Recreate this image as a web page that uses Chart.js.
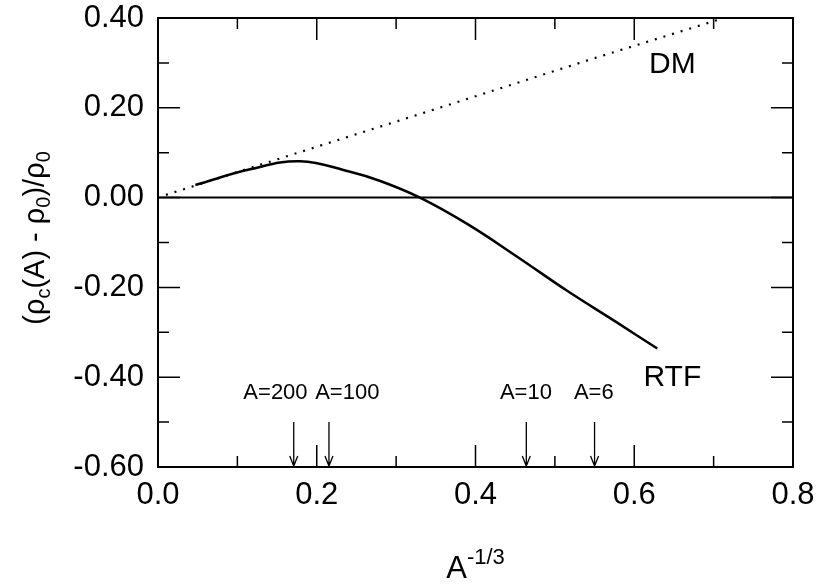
<!DOCTYPE html>
<html>
<head>
<meta charset="utf-8">
<script src="https://cdn.jsdelivr.net/npm/chart.js@4.4.1/dist/chart.umd.min.js"></script>
<style>
  html, body { margin: 0; padding: 0; background: #fff; }
  #wrap { width: 816px; height: 585px; }
</style>
</head>
<body>
<div id="wrap"><canvas id="myChart" width="816" height="585"></canvas></div>
<script>
// RTF curve
const rtfX = [0.047, 0.116, 0.179, 0.242, 0.28, 0.33, 0.389, 0.452, 0.515, 0.578, 0.629];
const rtfY = [0.028, 0.063, 0.081, 0.0575, 0.037, 0.0, -0.058, -0.131, -0.207, -0.278, -0.336];

// DM (dotted straight line)
const dmX = [0.01, 0.18, 0.36, 0.54, 0.713];
const dmY = [0.006, 0.102, 0.203, 0.305, 0.40];

// arrows for some mass numbers, at A^-1/3
const arrowNames = ["A=200", "A=100", "A=10", "A=6"];
const arrowX = [0.171, 0.2154, 0.464, 0.55];
const arrowLabelX = [0.148, 0.2385, 0.4635, 0.549];

const FONT = "'Liberation Sans', Arial, Helvetica, sans-serif";

function toPoints(xs, ys) {
  return xs.map((x, i) => ({ x: x, y: ys[i] }));
}

// draw text made of parts, some of them sub/superscript, centred on (x, y)
function drawRich(ctx, parts, x, y, size) {
  const small = Math.round(size * 0.7);
  let total = 0;
  parts.forEach((p) => {
    ctx.font = (p.sub || p.sup ? small : size) + "px " + FONT;
    p.w = ctx.measureText(p.t).width;
    total += p.w;
  });
  let cx = x - total / 2;
  ctx.textAlign = "left";
  ctx.textBaseline = "alphabetic";
  parts.forEach((p) => {
    ctx.font = (p.sub || p.sup ? small : size) + "px " + FONT;
    let dy = 0;
    if (p.sub) dy = size * 0.22;
    if (p.sup) dy = -size * 0.45;
    ctx.fillText(p.t, cx, y + dy);
    cx += p.w;
  });
}

// no extra room for the labels, the chart area is fixed by hand
function fixScale(scale, size) {
  if (scale.isHorizontal()) scale.height = size;
  else scale.width = size;
  scale.paddingTop = 0;
  scale.paddingBottom = 0;
  scale.paddingLeft = 0;
  scale.paddingRight = 0;
}

const framePlugin = {
  id: "frame",
  afterDraw(chart) {
    const ctx = chart.ctx;
    const xs = chart.scales.x;
    const ys = chart.scales.y;
    const a = chart.chartArea;
    ctx.save();
    ctx.strokeStyle = "#000";
    ctx.fillStyle = "#000";

    // zero line
    ctx.lineWidth = 2;
    ctx.beginPath();
    ctx.moveTo(a.left, ys.getPixelForValue(0));
    ctx.lineTo(a.right, ys.getPixelForValue(0));
    ctx.stroke();

    // box
    ctx.strokeRect(a.left, a.top, a.right - a.left, a.bottom - a.top);

    // inward ticks on all four sides
    ctx.lineWidth = 1.5;
    ctx.beginPath();
    for (let k = 1; k <= 7; k++) {
      const len = k % 2 === 0 ? 22 : 11;
      const px = xs.getPixelForValue(k / 10);
      ctx.moveTo(px, a.bottom);
      ctx.lineTo(px, a.bottom - len);
      ctx.moveTo(px, a.top);
      ctx.lineTo(px, a.top + len);
    }
    for (let k = -5; k <= 3; k++) {
      const len = Math.abs(k) % 2 === 0 ? 22 : 11;
      const py = ys.getPixelForValue(k / 10);
      ctx.moveTo(a.left, py);
      ctx.lineTo(a.left + len, py);
      ctx.moveTo(a.right, py);
      ctx.lineTo(a.right - len, py);
    }
    ctx.stroke();

    // arrows
    ctx.lineWidth = 1.3;
    arrowX.forEach((v, i) => {
      const px = xs.getPixelForValue(v);
      const y0 = ys.getPixelForValue(-0.5);
      const y1 = ys.getPixelForValue(-0.6) - 1;
      ctx.beginPath();
      ctx.moveTo(px, y0);
      ctx.lineTo(px, y1);
      ctx.moveTo(px - 4, y1 - 10);
      ctx.lineTo(px, y1);
      ctx.lineTo(px + 4, y1 - 10);
      ctx.stroke();
      ctx.font = "22px " + FONT;
      ctx.textAlign = "center";
      ctx.textBaseline = "middle";
      ctx.fillText(arrowNames[i], xs.getPixelForValue(arrowLabelX[i]), ys.getPixelForValue(-0.436));
    });

    // curve names
    ctx.font = "30px " + FONT;
    ctx.textAlign = "center";
    ctx.textBaseline = "middle";
    ctx.fillText("DM", xs.getPixelForValue(0.648), ys.getPixelForValue(0.295));
    ctx.fillText("RTF", xs.getPixelForValue(0.648), ys.getPixelForValue(-0.402));

    // x axis title
    drawRich(ctx, [{ t: "A" }, { t: "-1/3", sup: true }], (a.left + a.right) / 2, 578, 31);

    // y axis title, rotated
    ctx.translate(34, 238);
    ctx.rotate(-Math.PI / 2);
    drawRich(ctx, [
      { t: "(ρ" }, { t: "c", sub: true }, { t: "(A) - ρ" }, { t: "0", sub: true },
      { t: ")/ρ" }, { t: "0", sub: true }
    ], 0, 10, 29);
    ctx.restore();
  },
};

const ctx = document.getElementById("myChart").getContext("2d");
const chart = new Chart(ctx, {
  type: "line",
  data: {
    datasets: [
      {
        label: "DM",
        data: toPoints(dmX, dmY),
        borderColor: "#000",
        borderWidth: 2.2,
        borderDash: [2, 7],
        pointRadius: 0,
        fill: false,
        tension: 0,
      },
      {
        label: "RTF",
        data: toPoints(rtfX, rtfY),
        borderColor: "#000",
        borderWidth: 2.5,
        pointRadius: 0,
        fill: false,
        tension: 0.4,
      },
    ],
  },
  options: {
    responsive: false,
    animation: false,
    layout: { padding: { left: 0, right: 23, top: 18, bottom: 0 } },
    plugins: {
      legend: { display: false },
      tooltip: { enabled: false },
    },
    scales: {
      x: {
        type: "linear",
        min: 0,
        max: 0.8,
        grid: { display: false, drawTicks: false },
        border: { display: false },
        ticks: {
          stepSize: 0.2,
          padding: 10,
          maxRotation: 0,
          color: "#000",
          font: { family: FONT, size: 31 },
          callback: (v) => (Math.abs(v) < 1e-9 ? 0 : v).toFixed(1),
        },
        afterFit: (scale) => fixScale(scale, 118),
      },
      y: {
        min: -0.6,
        max: 0.4,
        grid: { display: false, drawTicks: false },
        border: { display: false },
        ticks: {
          stepSize: 0.2,
          padding: 14,
          color: "#000",
          font: { family: FONT, size: 31 },
          callback: (v) => (Math.abs(v) < 1e-9 ? 0 : v).toFixed(2),
        },
        afterFit: (scale) => fixScale(scale, 158),
      },
    },
  },
  plugins: [framePlugin],
});
</script>
</body>
</html>
